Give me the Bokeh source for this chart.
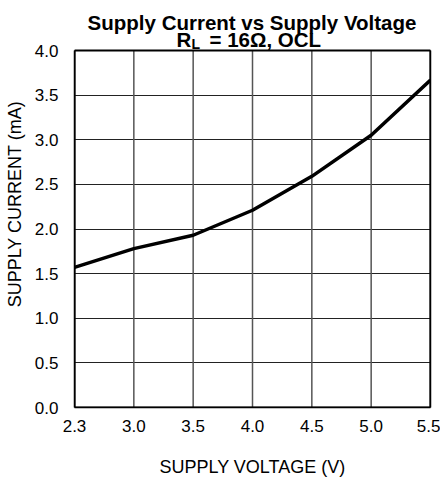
from bokeh.plotting import figure
from bokeh.models import FixedTicker, Range1d, LinearAxis
from bokeh.core.properties import value
from bokeh.embed import file_html
from bokeh.resources import INLINE

# Data
voltage_labels = ["2.3", "3.0", "3.5", "4.0", "4.5", "5.0", "5.5"]
supply_current = [1.57, 1.78, 1.93, 2.21, 2.59, 3.05, 3.67]
y_ticks = [0.0, 0.5, 1.0, 1.5, 2.0, 2.5, 3.0, 3.5, 4.0]

title_line1 = "Supply Current vs Supply Voltage"
title_line2 = ["R", "L", "= 16\u03a9, OCL"]

x_pos = list(range(len(voltage_labels)))
FONT = "Liberation Sans"

# Layout (pixels)
W, H = 440, 481
BL, BR, BB = 74, 10, 74      # borders
PLOT_TOP = 50                # pixel row of the y = 4.0 line
frame_h = H - BB
y_top_val = y_ticks[-1]
ppu_y = (frame_h - PLOT_TOP) / y_top_val
ppu_x = (W - BL - BR) / (len(voltage_labels) - 1)

def ypix(py):   # image pixel row -> data y
    return (frame_h - py) / ppu_y

def xpix(px):   # image pixel column -> data x
    return (px - BL) / ppu_x

p = figure(width=W, height=H, output_backend="svg", toolbar_location=None,
           x_range=Range1d(0, len(voltage_labels) - 1),
           y_range=Range1d(0, y_top_val + PLOT_TOP / ppu_y),
           min_border_left=BL, min_border_right=BR, min_border_top=0, min_border_bottom=BB)
p.outline_line_color = None
p.background_fill_color = "white"
p.border_fill_color = "white"

# grid: horizontal via ygrid, vertical as segments bounded by the data box
p.xgrid.visible = False
p.ygrid.grid_line_color = "#222222"
p.ygrid.grid_line_width = 1.2
p.segment(x0=x_pos, y0=[y_ticks[0]] * len(x_pos), x1=x_pos, y1=[y_ticks[-1]] * len(x_pos),
          line_color="#555555", line_width=1.5)
# plot box
p.quad(left=[x_pos[0]], right=[x_pos[-1]], bottom=[y_ticks[0]], top=[y_ticks[-1]],
       fill_color=None, line_color="black", line_width=2)

p.line(x_pos, supply_current, line_color="black", line_width=3.5)

xax = p.xaxis[0]
yax = p.yaxis[0]
xax.ticker = FixedTicker(ticks=x_pos)
xax.major_label_overrides = {i: s for i, s in enumerate(voltage_labels)}
yax.ticker = FixedTicker(ticks=y_ticks)
yax.major_label_overrides = {tk: f"{tk:.1f}" for tk in y_ticks}
yax.bounds = (y_ticks[0], y_ticks[-1])

for ax in (xax, yax):
    ax.axis_line_color = "black"
    ax.axis_line_width = 1.5
    ax.major_tick_line_color = None
    ax.minor_tick_line_color = None
    ax.major_label_text_font = FONT
    ax.major_label_text_font_size = "17px"
    ax.major_label_text_color = "black"
    ax.axis_label_text_font = FONT
    ax.axis_label_text_font_size = "18px"
    ax.axis_label_text_font_style = "normal"
    ax.axis_label_text_color = "black"

xax.axis_label = "SUPPLY VOLTAGE (V)"
yax.axis_label = "SUPPLY CURRENT (mA)"
xax.major_label_standoff = 6
xax.axis_label_standoff = 22
yax.major_label_standoff = 10
yax.axis_label_standoff = 7

# right edge of the plot box (line only, no ticks, no labels)
right_ax = LinearAxis(ticker=FixedTicker(ticks=[]), bounds=(y_ticks[0], y_ticks[-1]),
                      axis_label=None, axis_line_color="black", axis_line_width=1.5,
                      major_tick_line_color=None, minor_tick_line_color=None,
                      major_label_text_font_size="0px")
p.add_layout(right_ax, "right")

# title (two lines, with subscript L)
p.text(x=[xpix(251.5)], y=[ypix(22)], text=[title_line1], text_font=value(FONT),
       text_font_size="20.5px", text_font_style="bold", text_color="black",
       text_align="center", text_baseline="alphabetic")
p.text(x=[xpix(176), xpix(209)], y=[ypix(39), ypix(39)], text=[title_line2[0], title_line2[2]],
       text_font=value(FONT), text_font_size="20.5px", text_font_style="bold",
       text_color="black", text_align="left", text_baseline="alphabetic")
p.text(x=[xpix(191)], y=[ypix(43.5)], text=[title_line2[1]], text_font=value(FONT),
       text_font_size="14px", text_font_style="bold", text_color="black",
       text_align="left", text_baseline="alphabetic")

open("out.html", "w").write(file_html(p, INLINE))
